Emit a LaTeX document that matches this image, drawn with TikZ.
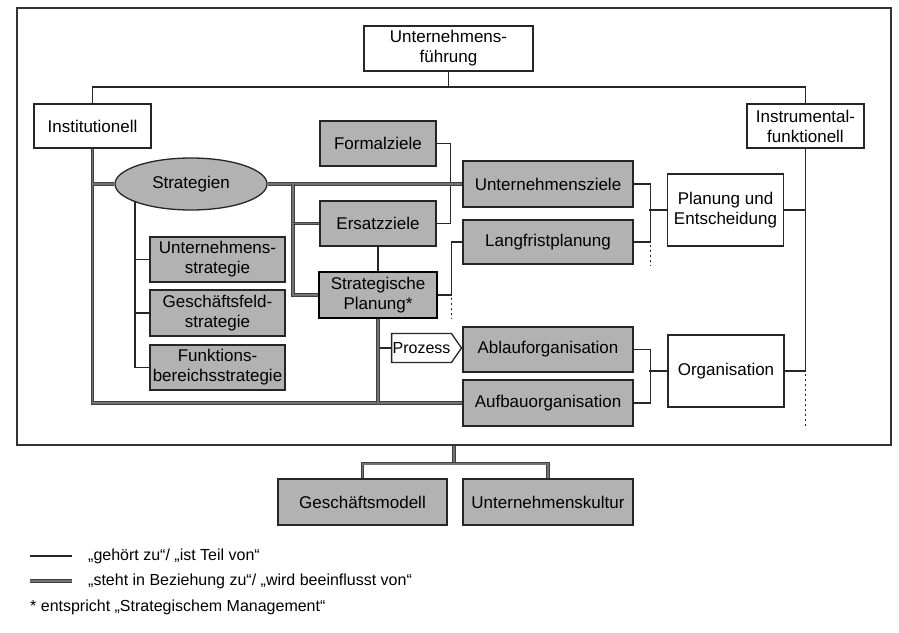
\documentclass[tikz,border=0pt]{standalone}
\usepackage{fontspec}
\setmainfont{Liberation Sans}
\usetikzlibrary{positioning, shapes.geometric, shapes.symbols}

\begin{document}
\begin{tikzpicture}[x=1pt, y=-1pt,
  box/.style={draw=black!85, line width=1.3pt, fill=black!30, align=center, inner sep=1pt, font=\fontsize{17}{20}\selectfont},
  wbox/.style={box, fill=white},
  part/.style={draw=black!85, line width=1.3pt},
  open/.style={part, line width=1.6pt, dash pattern=on 2pt off 3pt},
  rel/.style={draw=black!75, line width=0.9pt, double=black!55, double distance=1.8pt},
  legend/.style={anchor=west, inner sep=0pt, font=\fontsize{16}{18}\selectfont}
]
  \useasboundingbox (0,0) rectangle (899,632);
  \node[draw=black!80, line width=1.2pt, minimum width=874pt, minimum height=437pt] (frame) at (454,226.5) {};

  % top level
  \node[wbox, minimum width=169pt, minimum height=45pt] (fuehrung) at (448.5,48.5) {Unternehmens-\\führung};
  \node[wbox, minimum width=117pt, minimum height=44pt] (inst) at (92.5,126) {Institutionell};
  \node[wbox, minimum width=117pt, minimum height=44pt] (instr) at (805.5,126) {Instrumental-\\funktionell};

  % strategies
  \node[box, ellipse, minimum width=152pt, minimum height=52pt] (strat) at (191,184) {Strategien};
  \node[box, minimum width=135pt, minimum height=45pt] (ustrat) at (217.5,259.5) {Unternehmens-\\strategie};
  \node[box, minimum width=135pt, minimum height=46pt] (gstrat) at (217.5,313) {Geschäftsfeld-\\strategie};
  \node[box, minimum width=135pt, minimum height=45pt] (fstrat) at (217.5,367.5) {Funktions-\\bereichsstrategie};

  % goals and planning
  \node[box, minimum width=116pt, minimum height=45pt] (formal) at (378,143.5) {Formalziele};
  \node[box, minimum width=116pt, minimum height=45pt] (ersatz) at (378,223.5) {Ersatzziele};
  \node[box, line width=2.8pt, draw=black, minimum width=118pt, minimum height=46pt] (splan) at (378,295) {Strategische\\Planung*};
  \node[wbox, signal, signal to=east, signal pointer angle=110, minimum width=67pt, minimum height=29pt, font=\fontsize{16}{18}\selectfont] (prozess) at (421.5,348) {Prozess};

  \node[box, minimum width=170pt, minimum height=46pt] (uziele) at (548,184) {Unternehmensziele};
  \node[box, minimum width=170pt, minimum height=44pt] (langfrist) at (548,242) {Langfristplanung};
  \node[box, minimum width=170pt, minimum height=45pt] (ablauf) at (548,349.5) {Ablauforganisation};
  \node[box, minimum width=170pt, minimum height=46pt] (aufbau) at (548,403) {Aufbauorganisation};

  \node[wbox, minimum width=116pt, minimum height=72pt] (planung) at (725.5,210) {Planung und\\Entscheidung};
  \node[wbox, minimum width=116pt, minimum height=72pt] (orga) at (726,371) {Organisation};

  % below the frame
  \node[box, minimum width=169pt, minimum height=46pt] (gmodell) at (362.5,502) {Geschäftsmodell};
  \node[box, minimum width=170pt, minimum height=46pt] (kultur) at (548,502) {Unternehmenskultur};

  % thin connectors
  \coordinate (fj) at (448.5,87);
  \draw[part] (fuehrung) -- (fj);
  \draw[part] (inst.north) |- (fj) -| (instr.north);
  \draw[part] (strat.198) -- (strat.198 |- fstrat.west) -- (fstrat.west);
  \foreach \s in {ustrat, gstrat}
    \draw[part] (strat.198 |- \s.west) -- (\s.west);
  \draw[part] (formal.east) -| ([xshift=14pt]ersatz.east) -- (ersatz.east);
  \draw[part] (ersatz) -- (splan);
  \draw[part] (splan.east) -- ++(13,0) |- (langfrist.west);
  \draw[open] ([xshift=13pt]splan.east) ++(0,3) -- ++(0,21);
  \draw[part] (splan.south |- prozess.west) -- (prozess.west);
  \draw[part] (prozess.east) -- (prozess.east -| ablauf.west);
  \draw[part] (uziele.east) -- ++(17,0) |- (langfrist.east);
  \draw[open] ([xshift=17pt]langfrist.east) ++(0,3) -- ++(0,21);
  \draw[part] (planung.west) -- ++(-18,0);
  \draw[part] (ablauf.east) -- ++(17,0) |- (aufbau.east);
  \draw[part] (orga.west) -- ++(-18,0);
  \draw[part] (instr.south) |- (orga.east);
  \draw[part] (planung.east) -- (planung.east -| instr.south);
  \draw[open] (instr.south |- orga.east) ++(0,3) -- ++(0,55);

  % double connectors
  \draw[rel] (inst.south) |- (aufbau.west);
  \draw[rel] (inst.south |- strat.west) -- (strat.west);
  \draw[rel] (strat.east) -- (uziele.west);
  \coordinate (sj) at (293,184);
  \draw[rel] (sj) |- (splan.west);
  \draw[rel] (sj |- ersatz.west) -- (ersatz.west);
  \draw[rel] (splan.south) -- (splan.south |- aufbau.west);
  \draw[rel] (frame.south) -- ++(0,18) coordinate (bj);
  \draw[rel] (gmodell.north) |- (bj) -| (kultur.north);

  % legend
  \node[legend] (leg1) at (88,556) {„gehört zu“/ „ist Teil von“};
  \node[legend] (leg2) at (88,581) {„steht in Beziehung zu“/ „wird beeinflusst von“};
  \node[legend] (leg3) at (30,607) {* entspricht „Strategischem Management“};
  \draw[part] ([xshift=-58pt]leg1.west) -- ([xshift=-16pt]leg1.west);
  \draw[rel] ([xshift=-58pt]leg2.west) -- ([xshift=-16pt]leg2.west);
\end{tikzpicture}
\end{document}
